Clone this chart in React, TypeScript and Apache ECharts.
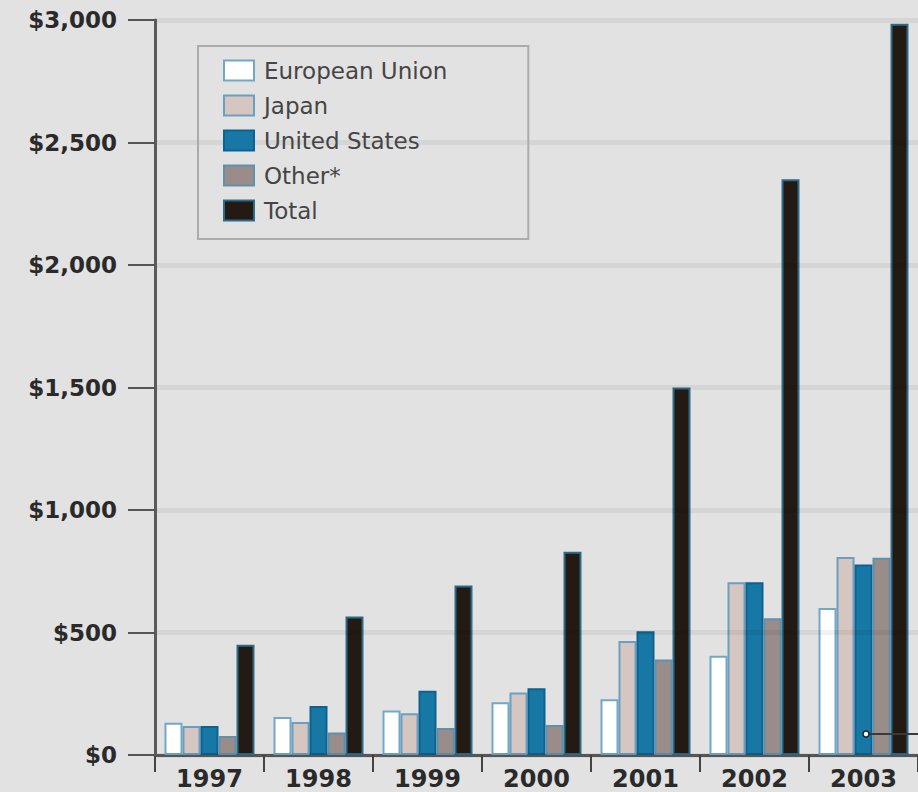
import React, { useEffect, useRef } from "react";
import * as echarts from "echarts";

const categories = ["1997", "1998", "1999", "2000", "2001", "2002", "2003"];
const seriesNames = ["European Union", "Japan", "United States", "Other*", "Total"];
const euValues = [132, 155, 182, 215, 228, 405, 600];
const japanValues = [118, 135, 170, 255, 465, 705, 808];
const usValues = [118, 200, 262, 272, 505, 705, 778];
const otherValues = [78, 92, 110, 122, 390, 558, 805];
const totalValues = [450, 565, 692, 830, 1500, 2350, 2985];
const yTicks = { min: 0, max: 3000, interval: 500 };

const fills = ["#ffffff", "#d6c6c2", "#1778a6", "#9a8c88", "#231a14"];
const borders = ["#72a8c6", "#6a9fbf", "#0d628f", "#5f91ad", "#2d6a8a"];

export default function App() {
  const ref = useRef<HTMLDivElement>(null);
  useEffect(() => {
    if (!ref.current) return;
    const chart = echarts.init(ref.current, null, { renderer: "svg" });
    const data = [euValues, japanValues, usValues, otherValues, totalValues];
    chart.setOption({
      animation: false,
      backgroundColor: "#e2e2e2",
      grid: { left: 155, right: 0, top: 20, bottom: 37, containLabel: false },
      legend: {
        orient: "vertical",
        left: 198,
        top: 46,
        icon: "rect",
        itemWidth: 30,
        itemHeight: 20,
        itemGap: 12,
        padding: [13, 81, 17, 25],
        borderColor: "#ababab",
        borderWidth: 2,
        textStyle: {
          fontFamily: "DejaVu Sans",
          fontSize: 23,
          color: "#454545",
          padding: [0, 0, 0, 5],
        },
        data: seriesNames,
      },
      xAxis: {
        type: "category",
        data: categories,
        axisLine: { lineStyle: { color: "#5a5a5a", width: 3 } },
        axisTick: { show: true, length: 17, lineStyle: { color: "#444", width: 2 } },
        axisLabel: {
          margin: 12,
          fontFamily: "DejaVu Sans",
          fontSize: 24,
          fontWeight: "bold",
          color: "#2a2a2a",
        },
      },
      yAxis: {
        type: "value",
        min: yTicks.min,
        max: yTicks.max,
        interval: yTicks.interval,
        z: 3,
        axisLine: { show: true, lineStyle: { color: "#5a5a5a", width: 3 } },
        axisTick: { show: true, length: 27, lineStyle: { color: "#555", width: 2 } },
        axisLabel: {
          margin: 38,
          fontFamily: "DejaVu Sans",
          fontSize: 23,
          fontWeight: "bold",
          color: "#2a2a2a",
          formatter: (v: number) => "$" + v.toLocaleString("en-US"),
        },
        splitLine: { show: true, lineStyle: { color: "rgba(0,0,0,0.055)", width: 5 } },
      },
      series: seriesNames.map((name, i) => ({
        name,
        type: "bar",
        data: data[i],
        barWidth: 18,
        barGap: "0%",
        itemStyle: { color: fills[i], borderColor: borders[i], borderWidth: 2 },
      })),
      graphic: [
        {
          type: "line",
          shape: { x1: 868, y1: 734, x2: 918, y2: 734 },
          style: { stroke: "#3a3a3a", lineWidth: 2 },
          z: 10,
        },
        {
          type: "circle",
          shape: { cx: 866, cy: 734, r: 3 },
          style: { fill: "#ffffff", stroke: "#222", lineWidth: 1.5 },
          z: 11,
        },
      ],
    });
    return () => chart.dispose();
  }, []);
  return (
    <div
      ref={ref}
      style={{ position: "absolute", left: 0, top: 0, width: 918, height: 792 }}
    />
  );
}
